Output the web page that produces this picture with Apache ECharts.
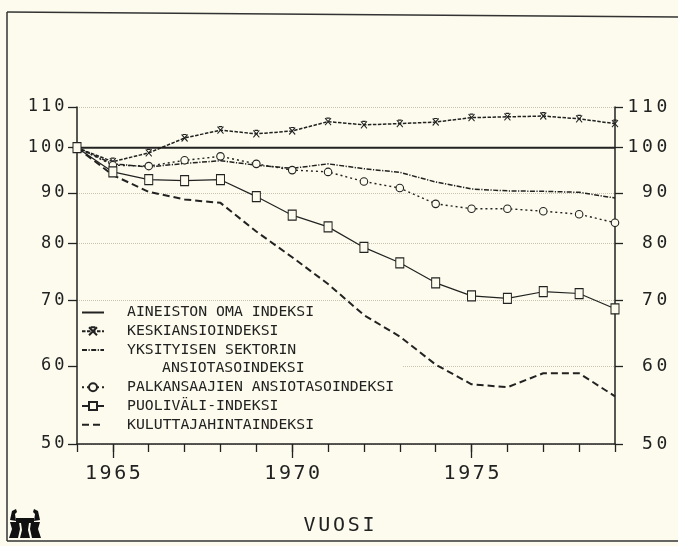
<!DOCTYPE html>
<html>
<head>
<meta charset="utf-8">
<script src="https://cdn.jsdelivr.net/npm/echarts@6/dist/echarts.min.js"></script>
<style>
  html, body { margin: 0; padding: 0; background: #fcfbed; }
  #chart { width: 678px; height: 546px; }
</style>
</head>
<body>
<div id="chart"></div>
<script>
// Index series 1964 = 100
const years = [1964, 1965, 1966, 1967, 1968, 1969, 1970, 1971, 1972, 1973, 1974, 1975, 1976, 1977, 1978, 1979];
const aineistonOma   = [100, 100, 100, 100, 100, 100, 100, 100, 100, 100, 100, 100, 100, 100, 100, 100];
const keskiansio     = [100, 96.8, 98.8, 102.3, 104.2, 103.3, 104.0, 106.3, 105.5, 105.8, 106.2, 107.3, 107.5, 107.7, 107.0, 105.8];
const yksityinen     = [100, 96.3, 95.6, 96.4, 97.0, 96.0, 95.3, 96.3, 95.2, 94.4, 92.3, 90.8, 90.4, 90.3, 90.1, 88.9];
const palkansaajat   = [100, 96.0, 95.8, 97.1, 98.0, 96.3, 94.9, 94.5, 92.4, 91.0, 87.7, 86.7, 86.7, 86.2, 85.6, 83.9];
const puolivali      = [100, 94.5, 92.8, 92.6, 92.8, 89.2, 85.4, 83.1, 79.2, 76.4, 72.9, 70.7, 70.3, 71.4, 71.1, 68.6];
const kuluttajahinta = [100, 93.8, 90.2, 88.6, 87.9, 82.2, 77.4, 72.7, 67.6, 64.3, 60.2, 57.5, 57.1, 59.0, 59.0, 55.9];

const seriesNames = [
  'AINEISTON OMA INDEKSI',
  'KESKIANSIOINDEKSI',
  'YKSITYISEN SEKTORIN ANSIOTASOINDEKSI',
  'PALKANSAAJIEN ANSIOTASOINDEKSI',
  'PUOLIVÄLI-INDEKSI',
  'KULUTTAJAHINTAINDEKSI'
];
const yTicks = [50, 60, 70, 80, 90, 100, 110];
const xLabelYears = [1965, 1970, 1975];
const xAxisTitle = 'VUOSI';

const INK = '#222';
const BG = '#fcfbed';
const GRID = '#c9c3b0';
const MONO = '"DejaVu Sans Mono", "Liberation Mono", monospace';

// plotter-style lettering: every character sits in a fixed-width cell
function spaced(text, styleName) {
  return String(text).split('').map(c => '{' + styleName + '|' + c + '}').join('');
}
function cell(width, size) {
  return { width: width, align: 'center', fontFamily: MONO, fontSize: size, color: INK };
}
function pairs(values) {
  return years.map((y, i) => [y, values[i]]);
}
// key entries for plain lines carry no marker
function plainKey(name) {
  return { name: name, itemStyle: { opacity: 0 } };
}

const chart = echarts.init(document.getElementById('chart'), null, { renderer: 'canvas' });

const legendText = {
  fontFamily: MONO, fontSize: 14.8, color: INK, lineHeight: 16, padding: [0, 0, 0, 18]
};
const legendBase = {
  orient: 'vertical', left: 81, itemWidth: 22, itemHeight: 10, itemGap: 2.7,
  padding: 0, selectedMode: false, textStyle: legendText
};

const hollow = { color: BG, borderColor: INK, borderWidth: 1.1 };

const option = {
  backgroundColor: BG,
  animation: false,
  grid: { left: 77, right: 63, top: 107, bottom: 102 },
  xAxis: [
    {
      type: 'value', min: 1964, max: 1979, interval: 1, position: 'bottom',
      axisLine: { show: true, onZero: false, lineStyle: { color: INK, width: 1.5 } },
      axisTick: { show: true, length: 8, lineStyle: { color: INK, width: 1.3 } },
      axisLabel: {
        customValues: xLabelYears, margin: 20,
        formatter: v => spaced(v, 'd'),
        rich: { d: cell(14.6, 20) }
      },
      splitLine: { show: false },
      name: spaced(xAxisTitle, 'n'),
      nameLocation: 'middle', nameGap: 72,
      nameTextStyle: { rich: { n: cell(14.8, 20) }, padding: [0, 14, 0, 0] }
    },
    {
      type: 'value', min: 1964, max: 1979, position: 'bottom',
      axisLine: { show: false, onZero: false },
      axisTick: { show: true, customValues: xLabelYears, length: 14, lineStyle: { color: INK, width: 1.3 } },
      axisLabel: { show: false },
      splitLine: { show: false }
    }
  ],
  yAxis: [
    {
      type: 'log', logBase: 10, min: 50, max: 110, position: 'left',
      axisLine: { show: true, lineStyle: { color: INK, width: 1.5 } },
      axisTick: { show: true, customValues: yTicks, length: 9, lineStyle: { color: INK, width: 1.3 } },
      axisLabel: {
        customValues: yTicks, margin: 11,
        formatter: v => spaced(v, 'l'),
        rich: { l: cell(13.3, 17) }
      },
      splitLine: { show: true, lineStyle: { color: GRID, type: 'dotted', width: 1 } },
      minorTick: { show: false }
    },
    {
      type: 'log', logBase: 10, min: 50, max: 110, position: 'right',
      axisLine: { show: true, lineStyle: { color: INK, width: 1.5 } },
      axisTick: { show: true, customValues: yTicks, length: 8, lineStyle: { color: INK, width: 1.3 } },
      axisLabel: {
        customValues: yTicks, margin: 54, align: 'right',
        formatter: v => spaced(v, 'r'),
        rich: { r: cell(14.4, 18) }
      },
      splitLine: { show: false }
    }
  ],
  legend: [
    Object.assign({}, legendBase, {
      top: 304.5,
      data: [plainKey(seriesNames[0]), seriesNames[1], plainKey(seriesNames[2])],
      formatter: name => name === seriesNames[2] ? 'YKSITYISEN SEKTORIN' : name
    }),
    Object.assign({}, legendBase, {
      top: 379.3,
      data: [seriesNames[3], seriesNames[4], plainKey(seriesNames[5])]
    })
  ],
  series: [
    {
      name: seriesNames[0], type: 'line', data: pairs(aineistonOma),
      symbol: 'none', lineStyle: { color: INK, width: 2 }
    },
    {
      name: seriesNames[1], type: 'line', data: pairs(keskiansio),
      symbol: 'path://M0,0L10,10M10,0L0,10M2,0L8,0', symbolSize: [6, 7],
      itemStyle: { color: 'none', borderColor: INK, borderWidth: 1.1 },
      lineStyle: { color: INK, width: 1.5, type: [3.5, 1.5] }
    },
    {
      name: seriesNames[2], type: 'line', data: pairs(yksityinen),
      symbol: 'none', lineStyle: { color: INK, width: 1.5, type: [5, 1.5, 1.2, 1.5] }
    },
    {
      name: seriesNames[3], type: 'line', data: pairs(palkansaajat),
      symbol: 'circle', symbolSize: 7.5, itemStyle: hollow,
      lineStyle: { color: INK, width: 1.4, type: [2, 3] }
    },
    {
      name: seriesNames[4], type: 'line', data: pairs(puolivali),
      symbol: 'rect', symbolSize: [8, 10], itemStyle: hollow,
      lineStyle: { color: INK, width: 1.2 }
    },
    {
      name: seriesNames[5], type: 'line', data: pairs(kuluttajahinta),
      symbol: 'none', lineStyle: { color: INK, width: 2, type: [7, 4] }
    }
  ].map(s => Object.assign({ silent: true, emphasis: { disabled: true } }, s)),
  graphic: [
    // legend backdrop hides the grid lines behind the key
    { type: 'rect', z: 1, silent: true, shape: { x: 78, y: 303, width: 324, height: 137 }, style: { fill: BG } },
    // second line of the private-sector entry
    {
      type: 'text', z: 5, silent: true,
      style: { text: 'ANSIOTASOINDEKSI', x: 162, y: 368.6, verticalAlign: 'middle', font: '14.8px ' + MONO, fill: INK }
    },
    // sheet frame
    { type: 'line', z: 5, silent: true, shape: { x1: 7, y1: 12, x2: 7, y2: 541 }, style: { stroke: '#333', lineWidth: 1.5 } },
    { type: 'line', z: 5, silent: true, shape: { x1: 7, y1: 12, x2: 678, y2: 17 }, style: { stroke: '#333', lineWidth: 1.5 } },
    { type: 'line', z: 5, silent: true, shape: { x1: 7, y1: 541, x2: 678, y2: 541 }, style: { stroke: '#333', lineWidth: 1.5 } },
    // emblem in the lower-left corner
    {
      type: 'group', silent: true, z: 5,
      children: [
        { type: 'polygon', shape: { points: [[10, 520], [12, 511], [16, 509], [17, 512], [15, 514], [16, 521]] }, style: { fill: '#111' } },
        { type: 'polygon', shape: { points: [[40, 520], [38, 511], [34, 509], [33, 512], [35, 514], [34, 521]] }, style: { fill: '#111' } },
        { type: 'rect', shape: { x: 16, y: 518, width: 18, height: 5 }, style: { fill: '#111' } },
        { type: 'polygon', shape: { points: [[10, 522], [19, 522], [20, 529], [18, 538], [9, 538], [12, 529]] }, style: { fill: '#111' } },
        { type: 'polygon', shape: { points: [[21, 523], [29, 523], [28, 530], [30, 538], [20, 538], [22, 530]] }, style: { fill: '#111' } },
        { type: 'polygon', shape: { points: [[40, 522], [31, 522], [30, 529], [32, 538], [41, 538], [38, 529]] }, style: { fill: '#111' } }
      ]
    }
  ]
};

chart.setOption(option);
</script>
</body>
</html>
